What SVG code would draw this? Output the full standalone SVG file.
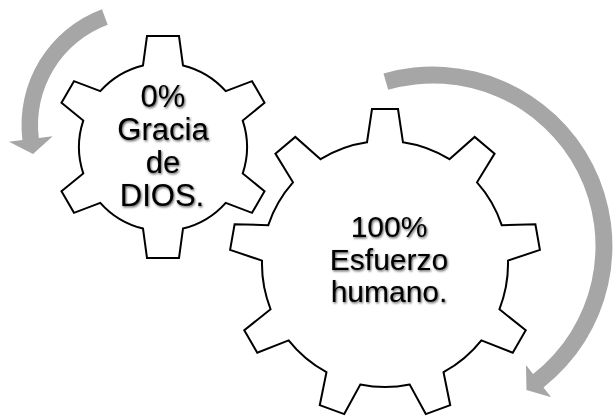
<svg xmlns="http://www.w3.org/2000/svg" width="614" height="416" viewBox="0 0 614 416">
  <defs>
    <filter id="shadow" x="-10%" y="-10%" width="120%" height="130%">
      <feDropShadow dx="1" dy="1.3" stdDeviation="1" flood-color="#000" flood-opacity="0.65"/>
    </filter>
  </defs>
  <style>
    .gear { fill: #ffffff; stroke: #000000; stroke-width: 2; stroke-linejoin: miter; }
    .arrow { fill: #a6a6a6; stroke: none; }
    .label { font-family: "Liberation Sans", Arial, sans-serif; font-size: 30px; fill: #000000; text-anchor: middle; filter: url(#shadow); }
    .small { font-size: 31px; }
  </style>
  <rect width="614" height="416" fill="#ffffff"/>
  <g id="connectors">
    <path id="arrow-left" class="arrow" d="M101.95,9.24 A123.5,123.5 0 0 0 22.42,140.05 L9.02,141.7 L33,154 L52.69,136.33 L38.8,138.04 A107,107 0 0 1 107.7,24.7 Z"/>
    <path id="arrow-right" class="arrow" d="M383.5,73.45 A179.5,179.5 0 0 1 543.5,387.4 L551.2,397.3 L526.5,389.9 L525.97,364.99 L533.05,374.05 A162.5,162.5 0 0 0 388.2,89.8 Z"/>
  </g>
  <g id="gear-small">
    <path class="gear" d="M143,65.42 L147,36 L179,36 L183,65.42 A84,84 0 0 1 225.74,91.15 L252.01,81.17 L264.51,102.83 L242.74,120.59 A84,84 0 0 1 242.74,173.41 L264.51,191.17 L252.01,212.83 L225.74,202.85 A84,84 0 0 1 183,228.58 L179,258 L147,258 L143,228.58 A84,84 0 0 1 100.26,202.85 L73.99,212.83 L61.49,191.17 L83.26,173.41 A84,84 0 0 1 83.26,120.59 L61.49,102.83 L73.99,81.17 L100.26,91.15 A84,84 0 0 1 143,65.42 Z"/>
    <text class="label small" x="163" y="107">0%</text>
    <text class="label small" x="163" y="140">Gracia</text>
    <text class="label small" x="163" y="173">de</text>
    <text class="label small" x="162" y="206">DIOS.</text>
  </g>
  <g id="gear-large">
    <path class="gear" d="M367,142.3 L372,109 L398,109 L403,142.3 A123,123 0 0 1 449.44,159.21 L474.68,136.91 L494.59,153.63 L477.02,182.35 A123,123 0 0 1 501.73,225.14 L535.39,224.28 L539.9,249.88 L507.98,260.6 A123,123 0 0 1 499.4,309.26 L525.73,330.24 L512.73,352.76 L481.4,340.44 A123,123 0 0 1 443.53,372.21 L450.23,405.2 L425.79,414.1 L409.71,384.52 A123,123 0 0 1 360.29,384.52 L344.21,414.1 L319.77,405.2 L326.47,372.21 A123,123 0 0 1 288.6,340.44 L257.27,352.76 L244.27,330.24 L270.6,309.26 A123,123 0 0 1 262.02,260.6 L230.1,249.88 L234.61,224.28 L268.27,225.14 A123,123 0 0 1 292.98,182.35 L275.41,153.63 L295.32,136.91 L320.56,159.21 A123,123 0 0 1 367,142.3 Z"/>
    <text class="label" x="389" y="237">100%</text>
    <text class="label" x="389" y="270">Esfuerzo</text>
    <text class="label" x="389" y="302">humano.</text>
  </g>
</svg>
